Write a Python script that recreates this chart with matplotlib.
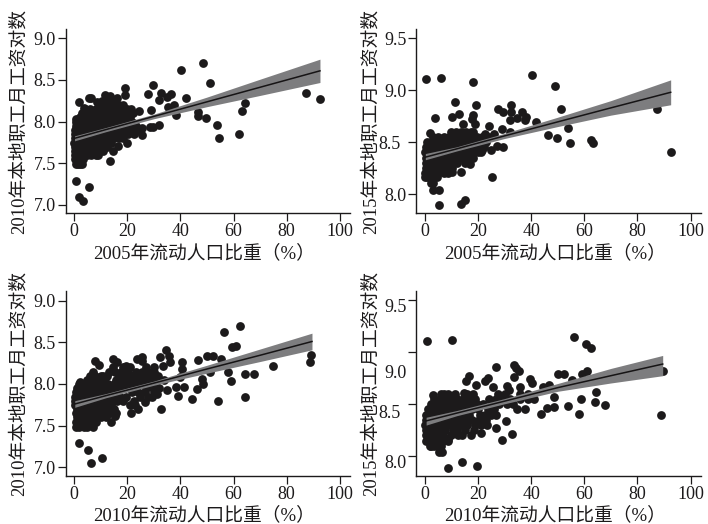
import matplotlib
matplotlib.use("Agg")
import matplotlib.pyplot as plt
from matplotlib.transforms import ScaledTranslation

plt.rcParams['font.family'] = ['Liberation Serif', 'Noto Sans CJK SC', 'DejaVu Sans']

W, H = 708, 524
INK = '#1c1a1b'

ylabels = ['2010年本地职工月工资对数', '2015年本地职工月工资对数',
           '2010年本地职工月工资对数', '2015年本地职工月工资对数']
xlabels = ['2005年流动人口比重（%）', '2005年流动人口比重（%）',
           '2010年流动人口比重（%）', '2010年流动人口比重（%）']
xticks = [0, 20, 40, 60, 80, 100]
yticks_a = [7.0, 7.5, 8.0, 8.5, 9.0]
yticks_b = [8.0, 8.5, 9.0, 9.5]

# ---- scattered points read individually
pts1 = [(0.9,7.29),(2.0,7.10),(3.3,7.05),(5.6,7.21),(13.7,7.53),(19.8,7.75),(16.5,7.71),(14.8,7.65),
        (27.7,8.33),(29.6,8.44),(32.6,8.34),(31.8,8.26),(36.6,8.33),(34.8,8.30),(35.2,8.18),(37.7,8.20),
        (38.2,8.08),(40.2,8.62),(42.1,8.29),(48.7,8.70),(51.0,8.46),(46.6,8.07),(46.7,8.12),(49.7,8.04),
        (53.9,7.96),(54.6,7.80),(62.2,7.85),(63.3,8.13),(64.4,8.22),(87.2,8.35),(92.7,8.27),(32.0,7.96),
        (29.0,8.14),(19.3,8.41),(19.3,8.32),(25.4,7.92),(25.4,7.84),(28.5,7.94),(29.6,7.94),(6.3,8.28),
        (2.0,8.23),(11.6,8.32),(13.5,8.31),(16.0,8.29),(24.3,8.13),(5.5,8.29),(12.0,8.27),(15.5,8.24),
        (0.9,8.03),(3.9,8.17),(8.8,8.23)]
pts2 = [(0.3,9.11),(6.0,9.12),(18.2,9.08),(11.4,8.89),(19.2,8.86),(4.0,8.73),(10.3,8.74),(12.8,8.77),
        (18.2,8.76),(17.8,8.72),(19.0,8.67),(14.3,8.67),(24.1,8.66),(2.1,8.59),(27.5,8.82),(29.5,8.79),
        (32.5,8.86),(32.5,8.79),(32.0,8.71),(34.5,8.73),(36.4,8.79),(37.9,8.74),(37.6,8.71),(40.3,9.15),
        (41.9,8.69),(28.9,8.63),(31.9,8.60),(26.1,8.58),(22.8,8.58),(48.8,9.04),(51.1,8.82),(54.0,8.64),
        (46.5,8.57),(49.8,8.54),(54.7,8.49),(62.4,8.52),(63.1,8.49),(87.2,8.82),(92.6,8.40),(25.2,8.16),
        (5.5,7.89),(13.7,7.90),(15.3,7.94),(5.5,8.04),(3.1,8.04),(13.7,8.21),(10.3,8.21),(16.9,8.29),
        (25.0,8.42),(29.4,8.45),(27.2,8.46),(21.6,8.42)]
pts3 = [(1.9,7.29),(5.1,7.21),(6.5,7.05),(10.4,7.11),(7.3,7.48),(13.9,7.54),(32.8,7.70),(23.9,7.70),
        (21.4,7.65),(15.4,7.62),(26.6,7.78),(29.2,7.84),(31.1,7.88),(34.8,7.93),(39.2,7.86),(38.5,7.96),
        (41.5,7.96),(44.2,7.82),(46.1,7.94),(48.6,8.00),(48.2,8.06),(51.1,8.14),(54.1,7.80),(58.9,8.04),
        (57.9,8.14),(64.3,7.85),(64.4,8.12),(67.8,8.12),(74.7,8.22),(88.7,8.26),(89.3,8.35),(56.4,8.62),
        (62.5,8.70),(59.5,8.44),(60.9,8.46),(55.4,8.30),(46.6,8.29),(50.2,8.34),(52.4,8.34),(34.5,8.41),
        (35.8,8.34),(32.3,8.32),(33.6,8.22),(36.0,8.26),(40.5,8.26),(40.5,8.18),(39.9,8.08),(23.6,8.30),
        (25.7,8.32),(25.7,8.28),(14.5,8.30),(16.0,8.26),(7.9,8.28),(9.4,8.23),(2.3,8.02),(19.5,8.22),
        (7.3,8.14),(11.0,8.10)]
pts4 = [(0.9,9.11),(10.4,9.12),(56.3,9.15),(60.5,9.08),(62.5,9.04),(33.5,8.88),(35.6,8.82),(34.4,8.85),
        (26.6,8.86),(50.2,8.79),(52.3,8.79),(60.9,8.82),(59.3,8.79),(55.3,8.73),(33.6,8.76),(39.4,8.74),
        (40.4,8.70),(16.6,8.77),(15.6,8.72),(19.4,8.69),(23.8,8.75),(22.8,8.72),(35.8,8.67),(31.0,8.68),
        (31.6,8.64),(25.5,8.67),(7.2,8.60),(3.0,8.59),(14.7,8.61),(44.4,8.67),(46.7,8.69),(64.4,8.62),
        (58.8,8.55),(48.6,8.57),(64.1,8.52),(67.8,8.49),(54.0,8.48),(48.6,8.47),(58.0,8.41),(43.9,8.41),
        (45.8,8.46),(34.5,8.45),(37.8,8.45),(30.4,8.34),(26.6,8.27),(23.5,8.30),(32.7,8.21),(29.2,8.16),
        (21.3,8.22),(17.2,8.20),(14.1,8.20),(8.8,8.17),(2.5,8.10),(5.3,8.04),(6.5,8.04),(8.9,7.89),
        (14.1,7.94),(19.7,7.91),(89.5,8.82),(88.7,8.40)]

# ---- dense clusters, as y level: x positions
rows1 = {7.49:[0.6,1.5,2.4,3.0], 7.55:[0.2,1.1,2.2,3.2], 7.60:[0.3,1.6,3.1,4.9,6.4,8.1,9.2],
         7.65:[0.5,2.1,3.6,5.0,7.2,8.9,10.8], 7.70:[0.2,1.4,3.0,4.6,6.1,8.2,10.6,12.3],
         7.75:[0.1,1.1,2.6,4.1,5.9,7.8,10.0,12.4,14.1], 7.80:[0.3,1.6,3.2,5.1,7.0,9.2,11.1,13.0,15.2,16.8,18.3],
         7.85:[0.5,2.0,3.9,6.2,8.1,10.2,12.1,14.3,16.2,18.1,20.4,22.6],
         7.90:[0.4,1.8,3.4,5.6,7.7,9.6,11.8,13.9,15.9,18.4,20.7,22.9,24.6],
         7.95:[0.7,2.2,4.2,6.3,8.4,10.4,12.6,14.6,16.9,19.2,21.3,23.4],
         8.00:[0.9,2.5,4.7,6.6,8.8,11.0,13.1,15.2,17.4,19.6,21.8],
         8.05:[2.2,4.1,6.0,8.0,10.1,12.3,14.4,16.6,18.8,20.9],
         8.10:[3.0,5.2,7.1,9.3,11.4,13.6,15.8,18.0,20.2,22.3],
         8.15:[4.0,6.2,8.4,10.5,12.8,15.0,17.6,19.9,21.5],
         8.20:[9.6,11.3,13.2,16.8,18.5], 8.25:[10.6,12.9]}
rows2 = {8.11:[2.4,3.0], 8.16:[0.0,1.0,1.9,3.2,4.6], 8.20:[0.2,1.5,3.1,5.0,7.1,8.9],
         8.25:[0.5,2.0,4.0,6.1,8.0,10.1], 8.30:[0.5,2.1,3.9,6.2,8.1,10.2,12.2,15.1],
         8.35:[0.3,1.6,3.3,5.2,7.2,9.1,11.2,13.1,15.3,16.2,18.1],
         8.40:[0.1,1.4,2.9,4.7,6.6,8.7,10.6,12.7,14.8,17.2,19.9,21.0],
         8.45:[0.4,1.8,3.6,5.5,7.5,9.6,11.6,13.8,15.9,18.3,20.2,22.4],
         8.50:[1.0,2.5,4.3,6.2,8.2,10.3,12.4,14.5,16.6,18.7,21.1,23.2],
         8.55:[3.0,5.1,7.3,9.2,11.3,13.4,15.5,17.6,19.7,21.6,24.3],
         8.60:[9.8,11.7,13.6,15.4,17.2,18.3]}
rows3 = {7.49:[0.9,2.0,3.8,4.9], 7.55:[0.8,2.5,4.4,6.0,8.2], 7.60:[1.0,2.8,4.6,6.5,8.3,10.2,12.1],
         7.65:[0.7,2.4,4.2,6.1,8.0,9.9,11.8,13.7,15.8], 7.70:[1.2,3.1,5.0,7.0,9.0,11.0,13.2,15.1],
         7.75:[0.5,2.2,4.1,6.0,8.2,10.2,12.3,14.1,20.9,23.0],
         7.80:[0.3,1.9,3.6,5.7,7.6,9.5,11.8,13.9,16.2,18.6,22.4],
         7.85:[0.4,2.1,4.0,6.2,8.4,10.4,12.5,15.0,17.3,19.4,25.0,28.0],
         7.90:[0.9,2.6,4.6,6.7,8.9,11.2,13.4,16.1,21.7,24.2,26.7,30.2],
         7.95:[1.2,3.3,5.3,7.4,9.6,12.1,14.2,16.5,18.8,23.0,27.1,29.6,32.0],
         8.00:[2.0,4.2,6.0,8.2,10.4,12.8,15.1,17.5,19.7,21.4,24.9,27.8,30.6],
         8.05:[4.7,6.9,9.1,11.3,15.9,18.2,20.7,23.3,26.0,28.6,31.2,33.9],
         8.10:[6.0,8.0,10.0,12.5,17.0,19.2,22.1,24.6,27.0,29.5,31.7],
         8.15:[13.0,15.4,17.7,20.4,23.2,25.4,27.9,30.0],
         8.20:[14.8,18.3,21.0,27.0,29.9]}
rows4 = {8.10:[1.9,3.3,5.5,6.1], 8.15:[0.6,2.0,3.6,5.2,6.9,8.8], 8.20:[0.4,1.9,3.4,5.1,6.8,9.8,12.6],
         8.25:[0.5,2.2,3.9,5.8,7.7,10.5,12.3,15.0,18.5], 8.30:[0.2,1.7,3.4,5.3,7.2,9.3,11.8,13.7,16.0,18.7,21.1],
         8.35:[0.5,2.4,4.3,6.2,8.5,10.6,12.6,15.2,17.9,20.3,23.0],
         8.40:[0.3,2.0,3.9,5.8,7.9,10.1,12.3,14.4,16.6,20.6,22.8,24.8,26.9],
         8.45:[1.2,3.1,5.0,6.9,9.0,11.1,13.3,15.6,17.8,20.0,23.7,26.1],
         8.50:[2.4,4.5,6.4,8.5,10.7,12.8,15.0,17.3,19.5,21.8,25.4,28.1,30.8,33.0],
         8.55:[3.5,5.6,7.7,9.8,12.0,14.2,16.5,18.7,24.2,26.6,29.3,31.9,36.0,39.0,41.1],
         8.60:[6.1,8.8,11.4,15.9,18.2,27.5,30.1,35.7,38.9]}

# ---- fitted line and confidence band
fit_x1 = [0.2, 12, 30, 50, 70, 92.5]
fit_y1 = [7.80, 7.905, 8.063, 8.238, 8.413, 8.61]
fit_lo1 = [7.77, 7.88, 8.035, 8.18, 8.315, 8.47]
fit_hi1 = [7.83, 7.93, 8.09, 8.295, 8.51, 8.75]
fit_x2 = [0.2, 12, 30, 50, 70, 92.5]
fit_y2 = [8.355, 8.435, 8.56, 8.695, 8.83, 8.98]
fit_lo2 = [8.33, 8.415, 8.535, 8.65, 8.76, 8.86]
fit_hi2 = [8.39, 8.455, 8.585, 8.74, 8.90, 9.10]
fit_x3 = [0.3, 12, 30, 50, 70, 89.5]
fit_y3 = [7.76, 7.86, 8.01, 8.18, 8.345, 8.51]
fit_lo3 = [7.72, 7.835, 7.985, 8.13, 8.27, 8.41]
fit_hi3 = [7.80, 7.885, 8.035, 8.225, 8.42, 8.61]
fit_x4 = [0.5, 12, 30, 50, 70, 89.5]
fit_y4 = [8.34, 8.415, 8.53, 8.66, 8.775, 8.887]
fit_lo4 = [8.30, 8.39, 8.505, 8.625, 8.705, 8.775]
fit_hi4 = [8.375, 8.44, 8.555, 8.70, 8.845, 8.97]

panels = [
    dict(pts=pts1, rows=rows1, fit=(fit_x1, fit_y1, fit_lo1, fit_hi1), box=(65.5, 29, 350, 213), xlim=(-3.2, 103.8), ylim=(6.904, 9.112), yticks=yticks_a, xlab=(204, 253), ylab=(19, 121)),
    dict(pts=pts2, rows=rows2, fit=(fit_x2, fit_y2, fit_lo2, fit_hi2), box=(416.3, 29, 700.7, 213), xlim=(-3.2, 103.8), ylim=(7.817, 9.59), yticks=yticks_b, xlab=(555, 253), ylab=(371, 121)),
    dict(pts=pts3, rows=rows3, fit=(fit_x3, fit_y3, fit_lo3, fit_hi3), box=(65.5, 291, 350, 476), xlim=(-3.2, 103.8), ylim=(6.896, 9.116), yticks=yticks_a, xlab=(204, 515), ylab=(19, 383)),
    dict(pts=pts4, rows=rows4, fit=(fit_x4, fit_y4, fit_lo4, fit_hi4), box=(416.3, 291, 700.7, 476), xlim=(-3.2, 103.8), ylim=(7.81, 9.59), yticks=yticks_b, xlab=(555, 515), ylab=(371, 383)),
]
# right-hand panels print some y labels away from their ticks (pixels: left, down)
label_shift = {
    1: {8.5: (6.0, 0.0)},
    3: {8.0: (0.0, 5.7), 8.5: (6.0, 7.3), 9.0: (0.0, 19.3), 9.5: (0.0, 5.0)},
}

fig = plt.figure(figsize=(W / 100, H / 100), dpi=100, facecolor='white')

for i, p in enumerate(panels):
    l, t, r, b = p['box']
    ax = fig.add_axes([l / W, 1 - b / H, (r - l) / W, (b - t) / H])
    xs = [q[0] for q in p['pts']]
    ys = [q[1] for q in p['pts']]
    for lvl, row in p['rows'].items():
        xs.extend(row)
        ys.extend([lvl] * len(row))
    ax.scatter(xs, ys, s=40, color=INK, linewidths=0, zorder=2, clip_on=False)
    fx, fy, flo, fhi = p['fit']
    ax.fill_between(fx, flo, fhi, color='#7d7d7f', linewidth=0, zorder=3)
    ax.plot(fx, fy, color='#161415', lw=1.1, zorder=4)

    ax.set_xlim(*p['xlim'])
    ax.set_ylim(*p['ylim'])
    ax.set_xticks(xticks)
    ax.set_yticks(p['yticks'])
    ax.set_yticklabels([f'{v:.1f}' for v in p['yticks']])
    ax.tick_params(axis='both', length=5.5, width=0.9, color=INK, labelcolor=INK, labelsize=13, pad=1.5)
    for side in ('top', 'right'):
        ax.spines[side].set_visible(False)
    for side in ('left', 'bottom'):
        ax.spines[side].set_linewidth(1.0)
        ax.spines[side].set_color(INK)

    ax.set_xlabel(xlabels[i], fontsize=13.5, color=INK, va='center', ha='center')
    ax.set_ylabel(ylabels[i], fontsize=13.5, color=INK, va='center', ha='center', rotation=90)
    to_fig = fig.transFigure
    ax.xaxis.set_label_coords(p['xlab'][0] / W, 1 - p['xlab'][1] / H, transform=to_fig)
    ax.yaxis.set_label_coords(p['ylab'][0] / W, 1 - p['ylab'][1] / H, transform=to_fig)

    if i in label_shift:
        for tick, val in zip(ax.yaxis.get_major_ticks(), p['yticks']):
            if val in label_shift[i]:
                dx, dy = label_shift[i][val]
                lab = tick.label1
                lab.set_transform(lab.get_transform() + ScaledTranslation(-dx / 100, -dy / 100, fig.dpi_scale_trans))

fig.savefig('out.png', dpi=100)
